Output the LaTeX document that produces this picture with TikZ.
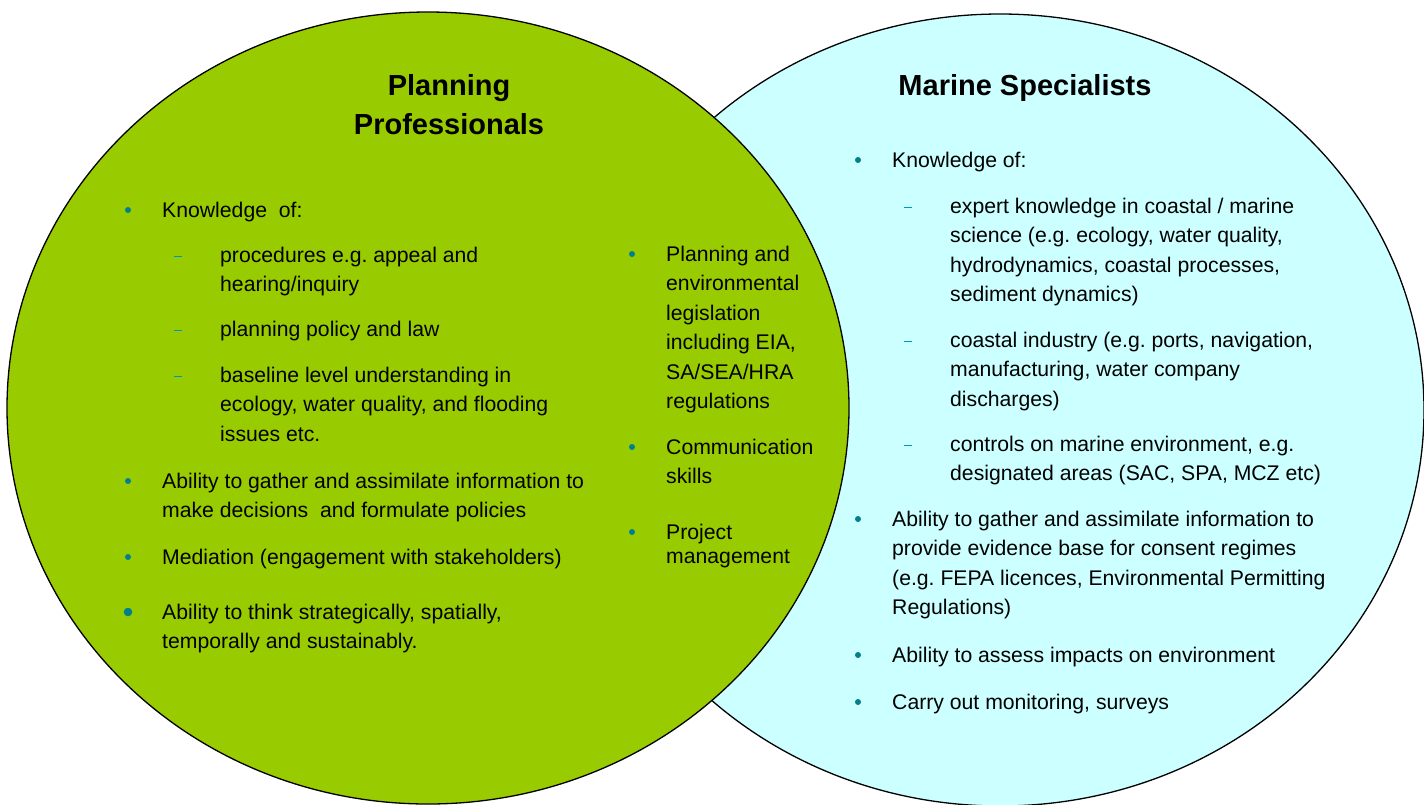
\documentclass[tikz,border=0pt]{standalone}
\usepackage{fontspec}
\setmainfont{Liberation Sans}
\frenchspacing
\usetikzlibrary{shapes}
\usetikzlibrary{positioning}
\definecolor{planninggreen}{RGB}{153,204,0}
\definecolor{marineblue}{RGB}{204,255,255}
\definecolor{dotteal}{RGB}{0,128,140}
\definecolor{dashteal}{RGB}{0,150,190}
\tikzstyle{set} = [ellipse, draw=black, line width=1.3pt, inner sep=0pt]
\tikzstyle{heading} = [font=\fontsize{29}{39}\selectfont\bfseries, align=center,
anchor=base, inner sep=0pt]
\tikzstyle{entry} = [font=\fontsize{21.2}{29.5}\selectfont,
anchor=base west, inner sep=0pt]
\tikzstyle{dot} = [fill=dotteal]
\tikzstyle{dashmark} = [draw=dashteal, line width=1pt]
\newcommand{\bulletitem}[3]{ %
  % text node #1 at #2 (first baseline), with a round bullet in front
  \node[entry] (#1) at (#2) {\begin{tabular}[t]{@{}l@{}}#3\end{tabular}};
  \fill[dot] ([xshift=-34pt,yshift=7pt]#1.base west) circle (3pt);
}
\newcommand{\dashitem}[3]{ %
  % same, with a short dash
  \node[entry] (#1) at (#2) {\begin{tabular}[t]{@{}l@{}}#3\end{tabular}};
  \path[dashmark] ([xshift=-46pt,yshift=5.5pt]#1.base west) -- ++(8pt,0);
}

\begin{document}
\begin{tikzpicture}[x=1pt,y=-1pt]
  \useasboundingbox (0,0) rectangle (1424,804);

  \node[set, fill=marineblue, minimum width=848pt, minimum height=792pt] (marine) at (1000,410) {};
  \node[set, fill=planninggreen, minimum width=842pt, minimum height=792pt] (planning) at (428,408) {};

  \node[heading] (tplan) at (449,134) {Planning\\Professionals};
  \node[heading] (tmarine) at (1025,95) {Marine Specialists};

  % planning professionals
  \bulletitem{pk}{162,217}{Knowledge~~of:}
  \dashitem{pk1}{220,262}{procedures e.g. appeal and\\hearing/inquiry}
  \dashitem{pk2}{220,336}{planning policy and law}
  \dashitem{pk3}{220,382}{baseline level understanding in\\ecology, water quality, and flooding\\issues etc.}
  \bulletitem{pa}{162,488}{Ability to gather and assimilate information to\\make decisions~~and formulate policies}
  \bulletitem{pm}{162,564}{Mediation (engagement with stakeholders)}
  \bulletitem{pt}{162,619}{Ability to think strategically, spatially,\\temporally and sustainably.}
  \fill[dot] ([xshift=-34pt,yshift=7pt]pt.base west) circle (4.3pt);

  % shared
  \bulletitem{sl}{666,261}{Planning and\\environmental\\legislation\\including EIA,\\SA/SEA/HRA\\regulations}
  \bulletitem{sc}{666,454}{Communication\\skills}
  \bulletitem{sp}{666,539}{Project\\[-5.5pt]management}

  % marine specialists
  \bulletitem{mk}{892,167}{Knowledge of:}
  \dashitem{mk1}{950,213}{expert knowledge in coastal / marine\\science (e.g. ecology, water quality,\\hydrodynamics, coastal processes,\\sediment dynamics)}
  \dashitem{mk2}{950,347}{coastal industry (e.g. ports, navigation,\\manufacturing, water company\\discharges)}
  \dashitem{mk3}{950,451}{controls on marine environment, e.g.\\designated areas (SAC, SPA, MCZ etc)}
  \bulletitem{ma}{892,526}{Ability to gather and assimilate information to\\provide evidence base for consent regimes\\(e.g. FEPA licences, Environmental Permitting\\Regulations)}
  \bulletitem{mi}{892,662}{Ability to assess impacts on environment}
  \bulletitem{mc}{892,709}{Carry out monitoring, surveys}
\end{tikzpicture}
\end{document}
